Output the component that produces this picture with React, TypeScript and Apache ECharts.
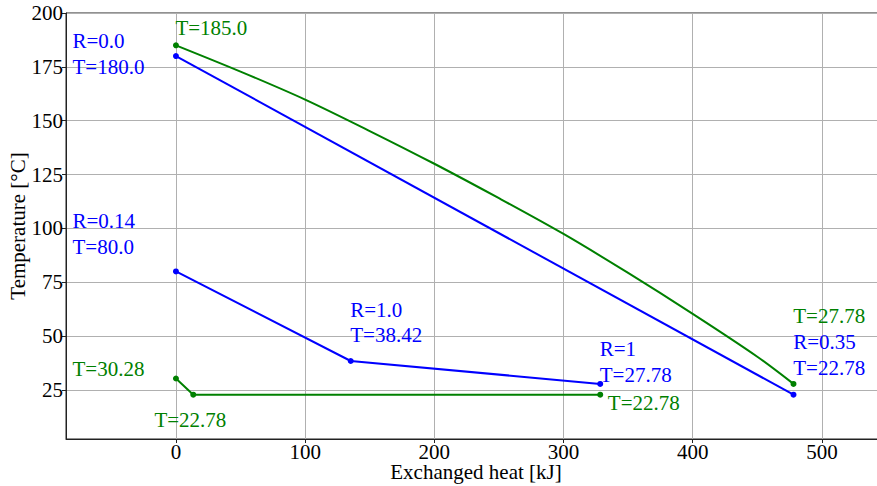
import React, { useEffect, useRef } from "react";
import * as echarts from "echarts";

const xTicks = [0, 100, 200, 300, 400, 500];
const yTicks = [25, 50, 75, 100, 125, 150, 175, 200];

// Hot stream, main exchanger (blue)
const hotMain: number[][] = [
  [0, 180.0],
  [478.0, 22.78],
];
// Cold stream, main exchanger (green, curved)
const coldMain: number[][] = [
  [0, 185.0],
  [50, 172.8],
  [100, 159.8],
  [150, 145.2],
  [200, 130.0],
  [250, 114.0],
  [300, 97.4],
  [350, 79.3],
  [400, 60.3],
  [450, 40.4],
  [478.0, 27.78],
];
// Hot stream, second exchanger (blue)
const hotSecond: number[][] = [
  [0, 80.0],
  [135.3, 38.42],
  [328.4, 27.78],
];
// Cold stream, second exchanger (green)
const coldSecond: number[][] = [
  [0, 30.28],
  [13.4, 22.78],
  [328.4, 22.78],
];

const blueNotes: (number | string)[][] = [
  [-79.7, 180.7, "R=0.0\nT=180.0"],
  [-79.7, 97.2, "R=0.14\nT=80.0"],
  [135.3, 56.1, "R=1.0\nT=38.42"],
  [328.4, 37.8, "R=1\nT=27.78"],
  [478.2, 40.9, "R=0.35\nT=22.78"],
];
const greenNotes: (number | string)[][] = [
  [0, 192.9, "T=185.0"],
  [-79.7, 34.3, "T=30.28"],
  [-16.3, 10.9, "T=22.78"],
  [334.7, 18.9, "T=22.78"],
  [478.2, 59.2, "T=27.78"],
];

const FONT = "Liberation Serif";
const BLUE = "#0000ff";
const GREEN = "#008000";

function lineSeries(data: number[][], color: string, endsOnly: boolean) {
  return {
    type: "line",
    data,
    smooth: endsOnly ? 0.3 : false,
    lineStyle: { color, width: 2 },
    itemStyle: { color },
    symbol: "circle",
    symbolSize: (_v: any, p: any) =>
      endsOnly && p.dataIndex !== 0 && p.dataIndex !== data.length - 1 ? 0 : 6,
    showAllSymbol: true,
    silent: true,
    z: 3,
  };
}

function noteSeries(data: (number | string)[][], color: string) {
  return {
    type: "scatter",
    data: data.map((d) => ({ value: [d[0], d[1]], name: d[2] as string })),
    symbol: "circle",
    symbolSize: 1,
    itemStyle: { color: "rgba(0,0,0,0)" },
    silent: true,
    clip: false,
    z: 4,
    labelLayout: { hideOverlap: false },
    label: {
      show: true,
      position: [0, 0],
      align: "left",
      verticalAlign: "middle",
      formatter: (p: any) => p.name,
      color,
      opacity: 1,
      textBorderWidth: 0,
      fontFamily: FONT,
      fontSize: 21,
      lineHeight: 25.5,
    },
  };
}

export default function App() {
  const ref = useRef<HTMLDivElement>(null);
  useEffect(() => {
    if (!ref.current) return;
    const chart = echarts.init(ref.current, null, { renderer: "svg" });
    chart.setOption({
      animation: false,
      backgroundColor: "#ffffff",
      grid: {
        left: 66,
        top: 13,
        right: -9,
        bottom: 47,
        containLabel: false,
        outerBoundsMode: "none",
        show: true,
        borderColor: "#222",
        borderWidth: 1,
        backgroundColor: "transparent",
      },
      xAxis: {
        type: "value",
        min: -85.1,
        max: 549.6,
        name: "Exchanged heat [kJ]",
        nameLocation: "middle",
        nameGap: 24,
        nameMoveOverlap: false,
        nameTextStyle: { fontFamily: FONT, fontSize: 21, lineHeight: 18, color: "#000" },
        axisLine: { show: true, onZero: false, lineStyle: { color: "#222", width: 1 } },
        axisTick: { show: true, length: 4, customValues: xTicks, lineStyle: { color: "#222" } },
        axisLabel: {
          customValues: xTicks,
          fontFamily: FONT,
          fontSize: 21,
          lineHeight: 18,
          color: "#000",
          margin: 4,
        },
        splitLine: { show: true, lineStyle: { color: "#b0b0b0", width: 1 } },
      },
      yAxis: {
        type: "value",
        min: 2.2,
        max: 200,
        name: "Temperature [°C]",
        nameLocation: "middle",
        nameGap: 38,
        nameMoveOverlap: false,
        nameTextStyle: { fontFamily: FONT, fontSize: 21, color: "#000" },
        axisLine: { show: true, onZero: false, lineStyle: { color: "#222", width: 1 } },
        axisTick: { show: true, length: 4, customValues: yTicks, lineStyle: { color: "#222" } },
        axisLabel: {
          customValues: yTicks,
          fontFamily: FONT,
          fontSize: 21,
          color: "#000",
          margin: 3,
        },
        splitLine: { show: true, lineStyle: { color: "#b0b0b0", width: 1 } },
      },
      series: [
        lineSeries(hotMain, BLUE, false),
        lineSeries(coldMain, GREEN, true),
        lineSeries(hotSecond, BLUE, false),
        lineSeries(coldSecond, GREEN, false),
        noteSeries(blueNotes, BLUE),
        noteSeries(greenNotes, GREEN),
      ],
    });
    return () => chart.dispose();
  }, []);
  return (
    <div
      ref={ref}
      style={{ position: "fixed", left: 0, top: 0, width: 877, height: 486, background: "#fff" }}
    />
  );
}
